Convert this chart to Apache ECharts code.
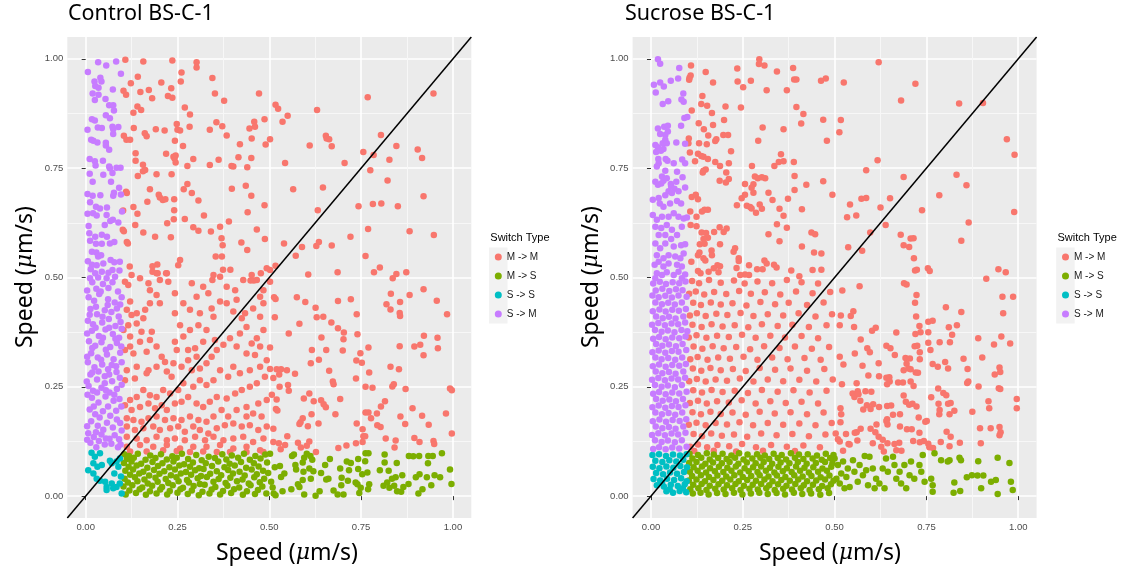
<!DOCTYPE html>
<html>
<head>
<meta charset="utf-8">
<title>Switch type speed scatter</title>
<script src="https://cdn.jsdelivr.net/npm/echarts@6/dist/echarts.min.js"></script>
<style>
    html, body { margin: 0; padding: 0; background: #fff; }
    #main { width: 1121px; height: 578px; }
</style>
</head>
<body>
<div id="main"></div>
<script>
// 分类与颜色 (ggplot 默认色)
const switchTypes = ['M -> M', 'M -> S', 'S -> S', 'S -> M'];
const typeColors = ['#F8766D', '#7CAE00', '#00BFC4', '#C77CFF'];
const panelTitles = ['Control BS-C-1', 'Sucrose BS-C-1'];
const legendTitle = 'Switch Type';
const axisTitle = 'Speed (μm/s)';
const majorTicks = [0, 0.25, 0.5, 0.75, 1];
const minorTicks = [0.125, 0.375, 0.625, 0.875];
const axisMin = -0.05;
const axisMax = 1.05;

// ---- Control BS-C-1 ----
const ctlMM = [
    [0.768,0.912],[0.947,0.921],[0.517,0.895],[0.524,0.886],[0.550,0.870],[0.536,0.856],[0.630,0.883],[0.502,0.816],[0.610,0.802],[0.654,0.824],
    [0.656,0.818],[0.663,0.816],[0.670,0.800],[0.804,0.826],[0.846,0.801],[0.904,0.793],[0.916,0.773],[0.756,0.787],[0.784,0.780],[0.827,0.769],
    [0.543,0.762],[0.705,0.762],[0.775,0.745],[0.822,0.722],[0.565,0.702],[0.646,0.706],[0.920,0.686],[0.632,0.654],[0.743,0.663],[0.782,0.668],
    [0.805,0.669],[0.850,0.663],[0.769,0.611],[0.882,0.606],[0.948,0.597],[0.540,0.578],[0.721,0.593],[0.589,0.570],[0.628,0.572],[0.635,0.581],
    [0.670,0.573],[0.572,0.550],[0.762,0.549],[0.502,0.517],[0.517,0.527],[0.606,0.507],[0.686,0.512],[0.785,0.512],[0.801,0.523],[0.836,0.498],
    [0.846,0.508],[0.873,0.512],[0.502,0.490],[0.513,0.455],[0.517,0.451],[0.575,0.455],[0.598,0.444],[0.626,0.431],[0.629,0.409],[0.647,0.410],
    [0.687,0.446],[0.722,0.450],[0.738,0.416],[0.831,0.463],[0.819,0.439],[0.830,0.427],[0.856,0.444],[0.855,0.419],[0.856,0.412],[0.882,0.460],
    [0.920,0.473],[0.956,0.447],[0.984,0.416],[0.515,0.409],[0.582,0.394],[0.553,0.372],[0.642,0.363],[0.669,0.397],[0.687,0.384],[0.703,0.374],
    [0.702,0.359],[0.700,0.333],[0.740,0.370],[0.502,0.340],[0.616,0.334],[0.655,0.334],[0.635,0.312],[0.613,0.304],[0.770,0.340],[0.748,0.327],
    [0.752,0.305],[0.737,0.310],[0.855,0.343],[0.895,0.342],[0.911,0.346],[0.921,0.367],[0.958,0.362],[0.959,0.338],[0.920,0.322],[0.830,0.296],
    [0.853,0.290],[0.502,0.291],[0.520,0.290],[0.532,0.290],[0.548,0.288],[0.527,0.278],[0.511,0.270],[0.570,0.280],[0.663,0.287],[0.673,0.262],
    [0.675,0.256],[0.736,0.269],[0.772,0.283],[0.528,0.250],[0.551,0.254],[0.553,0.241],[0.762,0.250],[0.781,0.248],[0.835,0.251],[0.839,0.256],
    [0.871,0.245],[0.992,0.246],[0.997,0.242],[0.507,0.232],[0.520,0.221],[0.518,0.199],[0.522,0.196],[0.594,0.223],[0.609,0.235],[0.621,0.217],
    [0.641,0.219],[0.648,0.210],[0.654,0.203],[0.693,0.222],[0.680,0.187],[0.615,0.187],[0.815,0.217],[0.804,0.205],[0.793,0.189],[0.770,0.191],
    [0.762,0.191],[0.777,0.178],[0.794,0.162],[0.803,0.158],[0.857,0.182],[0.890,0.201],[0.916,0.184],[0.981,0.189],[0.934,0.163],[0.870,0.165],
    [0.591,0.178],[0.585,0.169],[0.582,0.165],[0.605,0.160],[0.634,0.166],[0.738,0.166],[0.754,0.153],[0.756,0.137],[0.761,0.137],[0.736,0.121],
    [0.511,0.154],[0.549,0.137],[0.511,0.124],[0.526,0.121],[0.531,0.107],[0.543,0.117],[0.578,0.122],[0.586,0.111],[0.602,0.115],[0.609,0.125],
    [0.627,0.101],[0.688,0.110],[0.710,0.116],[0.754,0.124],[0.817,0.132],[0.844,0.127],[0.841,0.111],[0.895,0.133],[0.909,0.124],[0.947,0.126],
    [0.949,0.119],[0.997,0.143],
    [0.108,0.998],[0.157,0.994],[0.236,0.996],[0.302,0.992],[0.302,0.980],[0.261,0.969],[0.142,0.959],[0.123,0.944],[0.103,0.927],[0.110,0.918],
    [0.149,0.924],[0.172,0.929],[0.181,0.910],[0.206,0.946],[0.224,0.915],[0.236,0.911],[0.233,0.933],[0.259,0.948],[0.345,0.956],[0.352,0.921],
    [0.377,0.904],[0.472,0.921],[0.130,0.877],[0.141,0.891],[0.151,0.883],[0.270,0.889],[0.284,0.873],[0.248,0.851],[0.250,0.838],[0.257,0.836],
    [0.283,0.845],[0.338,0.838],[0.356,0.855],[0.372,0.846],[0.384,0.825],[0.420,0.805],[0.446,0.841],[0.459,0.856],[0.461,0.845],[0.487,0.862],
    [0.452,0.818],[0.490,0.804],[0.131,0.842],[0.104,0.824],[0.111,0.815],[0.121,0.815],[0.161,0.830],[0.166,0.823],[0.191,0.839],[0.215,0.836],
    [0.243,0.813],[0.265,0.801],[0.239,0.776],[0.242,0.772],[0.245,0.763],[0.245,0.779],[0.219,0.783],[0.136,0.784],[0.136,0.767],[0.156,0.758],
    [0.142,0.732],[0.156,0.743],[0.162,0.746],[0.193,0.736],[0.234,0.736],[0.277,0.755],[0.293,0.771],[0.338,0.757],[0.362,0.769],[0.397,0.755],
    [0.402,0.754],[0.416,0.775],[0.451,0.773],[0.440,0.752],[0.398,0.703],[0.436,0.710],[0.451,0.687],[0.441,0.649],[0.487,0.665],[0.466,0.610],
    [0.488,0.588],[0.110,0.696],[0.112,0.693],[0.175,0.702],[0.199,0.689],[0.202,0.683],[0.210,0.677],[0.217,0.679],[0.168,0.673],[0.130,0.661],
    [0.141,0.646],[0.135,0.620],[0.102,0.653],[0.101,0.609],[0.104,0.606],[0.241,0.679],[0.241,0.654],[0.240,0.633],[0.267,0.702],[0.277,0.714],
    [0.289,0.693],[0.307,0.676],[0.322,0.642],[0.293,0.615],[0.307,0.607],[0.270,0.634],[0.222,0.624],[0.189,0.593],[0.157,0.603],[0.112,0.581],
    [0.115,0.578],[0.232,0.592],[0.341,0.605],[0.366,0.616],[0.370,0.590],[0.373,0.574],[0.390,0.628],[0.424,0.580],[0.440,0.563],[0.354,0.548],
    [0.371,0.548],[0.374,0.518],[0.394,0.518],[0.257,0.540],[0.252,0.528],[0.195,0.530],[0.182,0.526],[0.182,0.513],[0.196,0.510],[0.219,0.510],
    [0.120,0.525],[0.345,0.494],[0.449,0.493],[0.458,0.493],[0.477,0.510],[0.493,0.521],
    [0.107,0.490],[0.116,0.483],[0.125,0.506],[0.148,0.498],[0.171,0.487],[0.175,0.471],[0.193,0.510],[0.202,0.494],[0.221,0.510],[0.225,0.490],
    [0.243,0.464],[0.193,0.460],[0.202,0.441],[0.175,0.441],[0.162,0.426],[0.121,0.445],[0.112,0.426],[0.125,0.414],[0.139,0.418],[0.157,0.407],
    [0.139,0.395],[0.116,0.391],[0.103,0.380],[0.121,0.365],[0.152,0.376],[0.180,0.376],[0.175,0.357],[0.148,0.353],[0.121,0.342],[0.107,0.334],
    [0.130,0.326],[0.166,0.330],[0.193,0.342],[0.207,0.319],[0.216,0.307],[0.193,0.296],[0.171,0.288],[0.139,0.296],[0.112,0.288],[0.107,0.265],
    [0.134,0.269],[0.166,0.281],[0.221,0.285],[0.234,0.273],[0.239,0.304],[0.248,0.334],[0.243,0.353],[0.266,0.365],[0.257,0.391],[0.243,0.418],
    [0.266,0.441],[0.289,0.487],[0.320,0.479],[0.334,0.464],[0.302,0.456],[0.284,0.426],[0.311,0.418],[0.343,0.429],[0.366,0.445],[0.348,0.410],
    [0.307,0.391],[0.284,0.380],[0.329,0.380],[0.352,0.357],[0.320,0.353],[0.298,0.338],[0.279,0.334],[0.302,0.319],[0.279,0.311],[0.261,0.296],
    [0.289,0.288],[0.311,0.292],[0.329,0.304],[0.343,0.319],[0.357,0.334],[0.375,0.346],[0.393,0.361],[0.411,0.342],[0.420,0.372],[0.438,0.387],
    [0.425,0.407],[0.402,0.422],[0.384,0.441],[0.411,0.449],[0.434,0.418],[0.456,0.429],[0.475,0.456],[0.484,0.471],[0.466,0.494],[0.429,0.494],
    [0.407,0.471],[0.366,0.502],[0.348,0.506],[0.384,0.479],[0.452,0.506],[0.484,0.441],[0.475,0.410],[0.484,0.380],[0.466,0.361],[0.452,0.349],
    [0.438,0.326],[0.461,0.323],[0.475,0.342],[0.493,0.311],[0.475,0.296],[0.447,0.288],[0.420,0.281],[0.402,0.296],[0.388,0.273],[0.366,0.288],
    [0.348,0.265],[0.329,0.254],[0.311,0.265],[0.293,0.250],[0.266,0.258],[0.252,0.243],[0.230,0.235],[0.211,0.243],[0.193,0.227],[0.175,0.231],
    [0.157,0.243],[0.139,0.227],[0.121,0.220],[0.107,0.208],[0.125,0.197],[0.148,0.204],[0.171,0.212],[0.189,0.201],[0.207,0.208],[0.221,0.197],
    [0.243,0.212],[0.261,0.216],[0.279,0.227],[0.302,0.212],[0.320,0.204],[0.338,0.216],[0.357,0.227],[0.384,0.223],[0.407,0.235],[0.425,0.243],
    [0.447,0.250],[0.466,0.258],[0.488,0.273],[0.493,0.220],[0.470,0.212],[0.438,0.204],[0.411,0.197],[0.388,0.182],[0.370,0.197],[0.348,0.182],
    [0.329,0.170],[0.307,0.174],[0.284,0.182],[0.261,0.174],[0.239,0.178],[0.216,0.174],[0.193,0.182],[0.171,0.178],[0.152,0.170],[0.130,0.174],
    [0.112,0.178],[0.112,0.159],[0.134,0.151],[0.157,0.155],[0.184,0.159],[0.202,0.151],[0.230,0.155],[0.252,0.159],[0.270,0.147],[0.293,0.159],
    [0.311,0.151],[0.334,0.143],[0.357,0.155],[0.379,0.162],[0.402,0.166],[0.425,0.159],[0.447,0.162],[0.470,0.151],[0.493,0.159],[0.479,0.182],
    [0.456,0.189],[0.438,0.182],[0.112,0.136],[0.139,0.132],[0.166,0.128],[0.193,0.136],[0.221,0.128],[0.243,0.132],[0.270,0.128],[0.298,0.136],
    [0.325,0.128],[0.348,0.136],[0.375,0.128],[0.402,0.132],[0.429,0.136],[0.456,0.124],[0.484,0.132],[0.112,0.113],[0.148,0.117],[0.184,0.113],
    [0.221,0.117],[0.257,0.109],[0.293,0.113],[0.329,0.113],[0.366,0.117],[0.402,0.109],[0.438,0.113],[0.475,0.105],[0.121,0.102],[0.166,0.102],
    [0.211,0.105],[0.248,0.103],[0.284,0.101],[0.320,0.102],[0.357,0.101],[0.393,0.101],[0.438,0.101],[0.484,0.101]
];
const ctlMS = [
    [0.502,0.097],[0.515,0.066],[0.529,0.069],[0.541,0.052],[0.532,0.044],[0.505,0.033],[0.509,0.020],[0.512,0.006],[0.517,0.002],[0.536,0.011],
    [0.562,0.092],[0.567,0.095],[0.573,0.061],[0.571,0.071],[0.595,0.088],[0.591,0.077],[0.602,0.097],[0.612,0.092],[0.617,0.083],[0.593,0.056],
    [0.609,0.063],[0.620,0.057],[0.613,0.040],[0.591,0.037],[0.582,0.021],[0.595,0.004],[0.560,0.016],[0.578,0.027],[0.626,0.001],[0.637,0.011],
    [0.641,0.053],[0.655,0.038],[0.661,0.040],[0.665,0.085],[0.652,0.071],[0.675,0.013],[0.686,0.004],[0.693,0.063],[0.697,0.042],[0.696,0.025],
    [0.702,0.004],[0.711,0.079],[0.717,0.059],[0.714,0.035],[0.722,0.076],[0.735,0.031],[0.740,0.027],[0.742,0.085],[0.749,0.019],[0.742,0.062],
    [0.753,0.050],[0.762,0.098],[0.770,0.098],[0.761,0.080],[0.767,0.054],[0.772,0.027],[0.769,0.016],[0.745,0.007],[0.801,0.059],[0.814,0.095],
    [0.814,0.077],[0.811,0.024],[0.821,0.031],[0.825,0.058],[0.827,0.019],[0.844,0.043],[0.847,0.076],[0.834,0.040],[0.840,0.024],[0.848,0.011],
    [0.859,0.010],[0.865,0.021],[0.862,0.048],[0.879,0.028],[0.880,0.092],[0.892,0.091],[0.908,0.092],[0.899,0.043],[0.909,0.050],[0.906,0.006],
    [0.917,0.016],[0.929,0.043],[0.932,0.075],[0.933,0.092],[0.945,0.092],[0.941,0.025],[0.950,0.048],[0.965,0.043],[0.970,0.098],[0.992,0.061],
    [0.996,0.028],
    [0.105,0.096],[0.118,0.092],[0.142,0.097],[0.176,0.093],[0.205,0.096],[0.236,0.091],[0.262,0.097],[0.301,0.094],[0.335,0.090],[0.372,0.096],
    [0.398,0.093],[0.431,0.097],[0.462,0.092],[0.489,0.095],[0.112,0.085],[0.131,0.088],[0.163,0.083],[0.190,0.087],[0.221,0.084],[0.248,0.088],
    [0.279,0.085],[0.316,0.082],[0.352,0.087],[0.383,0.084],[0.415,0.088],[0.447,0.083],[0.476,0.086],[0.104,0.076],[0.125,0.079],[0.151,0.074],
    [0.182,0.078],[0.209,0.075],[0.239,0.079],[0.268,0.073],[0.292,0.077],[0.327,0.075],[0.361,0.079],[0.392,0.074],[0.423,0.078],[0.458,0.075],
    [0.494,0.077],[0.117,0.067],[0.139,0.070],[0.168,0.065],[0.197,0.069],[0.228,0.066],[0.255,0.070],[0.284,0.067],[0.309,0.064],[0.344,0.069],
    [0.378,0.066],[0.406,0.070],[0.437,0.065],[0.471,0.068],[0.108,0.058],[0.129,0.061],[0.157,0.056],[0.186,0.060],[0.214,0.057],[0.243,0.061],
    [0.273,0.055],[0.298,0.059],[0.321,0.062],[0.357,0.057],[0.388,0.060],[0.419,0.056],[0.452,0.061],[0.483,0.058],[0.121,0.049],[0.146,0.052],
    [0.173,0.047],[0.201,0.051],[0.232,0.048],[0.259,0.052],[0.287,0.049],[0.314,0.046],[0.339,0.051],[0.369,0.048],[0.401,0.052],[0.433,0.047],
    [0.466,0.050],[0.497,0.053],[0.106,0.040],[0.134,0.043],[0.160,0.038],[0.190,0.042],[0.218,0.039],[0.247,0.043],[0.276,0.037],[0.305,0.041],
    [0.330,0.044],[0.362,0.039],[0.394,0.042],[0.427,0.038],[0.459,0.043],[0.486,0.040],[0.115,0.031],[0.141,0.034],[0.169,0.029],[0.196,0.033],
    [0.225,0.030],[0.253,0.034],[0.281,0.031],[0.311,0.028],[0.348,0.033],[0.381,0.030],[0.412,0.034],[0.444,0.029],[0.474,0.032],[0.103,0.022],
    [0.127,0.025],[0.154,0.020],[0.181,0.024],[0.208,0.021],[0.237,0.025],[0.265,0.019],[0.294,0.023],[0.324,0.026],[0.353,0.021],[0.386,0.024],
    [0.418,0.020],[0.449,0.025],[0.481,0.022],[0.119,0.013],[0.147,0.016],[0.175,0.011],[0.203,0.015],[0.229,0.012],[0.258,0.016],[0.289,0.013],
    [0.318,0.010],[0.343,0.015],[0.374,0.012],[0.404,0.016],[0.439,0.011],[0.469,0.014],[0.109,0.004],[0.137,0.007],[0.164,0.003],[0.193,0.006],
    [0.222,0.004],[0.250,0.008],[0.278,0.005],[0.308,0.002],[0.337,0.006],[0.366,0.004],[0.396,0.007],[0.428,0.003],[0.461,0.005],[0.492,0.006]
];
const ctlSS = [
    [0.016,0.099],[0.025,0.090],[0.039,0.098],[0.007,0.059],[0.021,0.052],[0.032,0.067],[0.044,0.071],[0.066,0.081],[0.071,0.075],[0.084,0.079],
    [0.093,0.086],[0.089,0.067],[0.030,0.040],[0.039,0.035],[0.057,0.021],[0.057,0.014],[0.071,0.029],[0.075,0.018],[0.084,0.021],[0.098,0.006],
    [0.093,0.029],[0.053,0.033],[0.021,0.075],[0.078,0.052],[0.096,0.045]
];
const ctlSM = [
    [0.034,0.992],[0.056,0.985],[0.083,0.994],[0.006,0.970],[0.096,0.966],[0.024,0.948],[0.040,0.957],[0.043,0.948],[0.026,0.938],[0.035,0.934],
    [0.074,0.930],[0.019,0.921],[0.025,0.906],[0.035,0.918],[0.054,0.908],[0.064,0.894],[0.075,0.894],[0.077,0.882],[0.017,0.862],[0.025,0.859],
    [0.055,0.871],[0.066,0.864],[0.033,0.843],[0.044,0.842],[0.005,0.838],[0.073,0.845],[0.075,0.839],[0.089,0.844],[0.075,0.828],[0.015,0.815],
    [0.021,0.813],[0.032,0.809],[0.055,0.808],[0.055,0.802],[0.064,0.792],[0.011,0.771],[0.025,0.766],[0.027,0.756],[0.047,0.767],[0.064,0.754],
    [0.066,0.750],[0.084,0.751],[0.095,0.751],[0.073,0.739],[0.011,0.737],[0.048,0.735],[0.019,0.719],[0.069,0.719],[0.091,0.705],[0.005,0.691],
    [0.019,0.687],[0.040,0.688],[0.077,0.694],[0.075,0.687],[0.096,0.690],[0.012,0.672],[0.028,0.662],[0.039,0.658],[0.058,0.660],[0.005,0.646],
    [0.020,0.647],[0.030,0.642],[0.057,0.643],[0.067,0.629],[0.074,0.632],[0.089,0.626],[0.008,0.618],[0.052,0.620],[0.099,0.651],[0.010,0.601],
    [0.026,0.593],[0.044,0.598],[0.058,0.593],[0.012,0.584],[0.028,0.577],[0.044,0.577],[0.066,0.578],[0.078,0.581],[0.017,0.559],[0.029,0.557],
    [0.034,0.548],[0.042,0.551],[0.006,0.537],[0.017,0.529],[0.030,0.528],[0.048,0.532],[0.068,0.540],[0.078,0.535],[0.093,0.536],[0.014,0.519],
    [0.026,0.510],[0.044,0.513],[0.062,0.511],[0.073,0.517],[0.092,0.516],[0.012,0.498],[0.034,0.500],[0.057,0.498],[0.080,0.502],
    [0.018,0.489],[0.029,0.474],[0.047,0.485],[0.073,0.489],[0.088,0.468],[0.008,0.455],[0.023,0.447],[0.037,0.462],[0.061,0.450],[0.079,0.443],
    [0.094,0.438],[0.013,0.428],[0.031,0.416],[0.052,0.425],[0.070,0.421],[0.090,0.411],[0.006,0.401],[0.020,0.393],[0.045,0.397],[0.063,0.405],
    [0.081,0.389],[0.095,0.398],[0.017,0.378],[0.036,0.366],[0.054,0.381],[0.074,0.371],[0.091,0.362],[0.009,0.354],[0.026,0.344],[0.043,0.352],
    [0.067,0.341],[0.085,0.350],[0.015,0.327],[0.033,0.317],[0.058,0.324],[0.076,0.313],[0.094,0.328],[0.006,0.306],[0.024,0.295],[0.045,0.301],
    [0.061,0.290],[0.083,0.297],[0.013,0.278],[0.031,0.267],[0.052,0.274],[0.072,0.263],[0.093,0.271],[0.008,0.252],[0.020,0.241],[0.043,0.248],
    [0.065,0.237],[0.085,0.245],[0.017,0.225],[0.035,0.214],[0.054,0.228],[0.076,0.218],[0.092,0.222],[0.011,0.198],[0.026,0.187],[0.047,0.194],
    [0.067,0.184],[0.083,0.195],[0.015,0.171],[0.033,0.161],[0.058,0.168],[0.074,0.157],[0.094,0.167],[0.007,0.144],[0.022,0.135],[0.043,0.141],
    [0.065,0.131],[0.079,0.139],[0.091,0.130],[0.013,0.122],[0.029,0.112],[0.052,0.118],[0.070,0.120],[0.088,0.112],
    [0.004,0.470],[0.041,0.468],[0.062,0.476],[0.098,0.455],[0.028,0.433],[0.060,0.437],[0.085,0.429],[0.011,0.415],[0.046,0.410],[0.098,0.383],
    [0.027,0.385],[0.064,0.385],[0.004,0.372],[0.047,0.362],[0.081,0.360],[0.018,0.339],[0.055,0.335],[0.097,0.342],[0.004,0.319],[0.042,0.312],
    [0.071,0.300],[0.098,0.306],[0.018,0.283],[0.035,0.285],[0.064,0.278],[0.084,0.284],[0.003,0.262],[0.052,0.258],[0.098,0.255],[0.031,0.237],
    [0.055,0.242],[0.078,0.232],[0.005,0.232],[0.022,0.205],[0.061,0.205],[0.097,0.205],[0.038,0.180],[0.085,0.175],[0.004,0.160],[0.048,0.152],
    [0.098,0.150],[0.028,0.146],[0.055,0.132],[0.036,0.126],[0.095,0.118],[0.004,0.129]
];

// ---- Sucrose BS-C-1 ----
const sucMM = [
    [0.109,0.985],[0.149,0.970],[0.105,0.957],[0.108,0.962],[0.104,0.952],[0.169,0.946],[0.235,0.978],[0.236,0.948],[0.251,0.935],[0.272,0.950],
    [0.295,0.999],[0.294,0.988],[0.309,0.985],[0.343,0.971],[0.387,0.979],[0.390,0.953],[0.396,0.953],[0.315,0.928],[0.370,0.928],[0.463,0.950],
    [0.476,0.955],[0.140,0.915],[0.137,0.897],[0.153,0.893],[0.111,0.882],[0.203,0.891],[0.245,0.889],[0.166,0.876],[0.130,0.853],[0.144,0.839],
    [0.169,0.849],[0.199,0.860],[0.197,0.826],[0.210,0.826],[0.156,0.825],[0.175,0.812],[0.178,0.816],[0.131,0.807],[0.152,0.805],[0.103,0.818],
    [0.102,0.807],[0.106,0.786],[0.128,0.783],[0.137,0.778],[0.143,0.776],[0.155,0.771],[0.120,0.766],[0.175,0.764],[0.188,0.755],[0.218,0.789],
    [0.212,0.761],[0.143,0.744],[0.149,0.747],[0.141,0.740],[0.205,0.740],[0.187,0.721],[0.212,0.725],[0.204,0.717],[0.292,0.813],[0.304,0.843],
    [0.275,0.755],[0.256,0.714],[0.283,0.731],[0.291,0.727],[0.302,0.729],[0.311,0.727],[0.279,0.713],[0.274,0.705],[0.279,0.694],[0.247,0.681],
    [0.256,0.689],[0.261,0.664],[0.270,0.661],[0.274,0.658],[0.234,0.665],[0.296,0.667],[0.286,0.648],[0.320,0.694],[0.331,0.677],[0.302,0.657],
    [0.348,0.764],[0.354,0.782],[0.361,0.766],[0.389,0.764],[0.361,0.839],[0.336,0.755],[0.350,0.657],[0.361,0.641],[0.373,0.680],[0.391,0.700],
    [0.391,0.732],[0.411,0.656],[0.423,0.712],[0.343,0.622],[0.370,0.614],[0.320,0.599],[0.350,0.583],[0.411,0.571],[0.437,0.603],[0.447,0.599],
    [0.444,0.557],[0.464,0.555],[0.469,0.720],[0.494,0.689],[0.409,0.852],[0.415,0.874],[0.396,0.890],[0.469,0.861],[0.479,0.813],[0.111,0.684],
    [0.122,0.689],[0.128,0.679],[0.107,0.651],[0.124,0.639],[0.139,0.651],[0.146,0.655],[0.155,0.655],[0.108,0.620],[0.124,0.617],[0.138,0.603],
    [0.150,0.602],[0.155,0.591],[0.143,0.588],[0.172,0.604],[0.187,0.615],[0.206,0.612],[0.198,0.604],[0.133,0.576],[0.146,0.577],[0.165,0.562],
    [0.166,0.551],[0.188,0.576],[0.229,0.567],[0.225,0.559],[0.128,0.551],[0.132,0.557],[0.143,0.544],[0.148,0.539],[0.110,0.536],[0.181,0.528],
    [0.188,0.526],[0.239,0.544],[0.239,0.538],[0.267,0.528],[0.309,0.539],[0.315,0.532],[0.233,0.522],[0.171,0.521],[0.157,0.513],[0.184,0.512],
    [0.128,0.515],[0.135,0.510],[0.335,0.529],[0.342,0.523],[0.289,0.519],[0.304,0.519],[0.243,0.506],[0.256,0.507],[0.267,0.506],[0.382,0.516],
    [0.440,0.517],[0.464,0.518],[0.404,0.503],
    [0.620,0.992],[0.525,0.946],[0.720,0.943],[0.681,0.905],[0.839,0.898],[0.904,0.899],[0.517,0.860],[0.513,0.832],[0.969,0.816],[0.990,0.781],
    [0.617,0.768],[0.586,0.745],[0.688,0.730],[0.832,0.735],[0.859,0.711],[0.785,0.688],[0.573,0.680],[0.586,0.682],[0.651,0.681],[0.542,0.667],
    [0.625,0.660],[0.534,0.638],[0.559,0.642],[0.738,0.654],[0.989,0.650],[0.639,0.620],[0.865,0.626],[0.597,0.603],[0.680,0.598],[0.707,0.589],
    [0.715,0.590],[0.688,0.574],[0.703,0.570],[0.537,0.569],[0.575,0.561],[0.845,0.584],[0.716,0.544],[0.719,0.516],[0.724,0.518],[0.754,0.521],
    [0.759,0.515],[0.946,0.519],[0.966,0.512],[0.913,0.497],[0.521,0.470],[0.568,0.480],[0.689,0.487],[0.696,0.484],[0.723,0.460],[0.719,0.442],
    [0.517,0.413],[0.544,0.412],[0.551,0.423],[0.514,0.391],[0.553,0.387],[0.722,0.411],[0.803,0.432],[0.845,0.421],[0.959,0.418],[0.957,0.456],
    [0.986,0.456],[0.755,0.399],[0.767,0.401],[0.731,0.389],[0.734,0.375],[0.720,0.371],[0.718,0.343],[0.725,0.344],[0.668,0.374],[0.602,0.378],
    [0.612,0.385],[0.571,0.358],[0.811,0.386],[0.833,0.391],[0.820,0.369],[0.814,0.352],[0.755,0.375],[0.755,0.351],[0.761,0.334],[0.786,0.352],
    [0.891,0.361],[0.934,0.347],[0.954,0.365],[0.978,0.349],[0.641,0.344],[0.652,0.338],[0.664,0.323],[0.589,0.338],[0.596,0.329],[0.555,0.326],
    [0.514,0.319],[0.524,0.301],[0.693,0.316],[0.705,0.315],[0.696,0.303],[0.688,0.288],[0.701,0.292],[0.707,0.290],[0.721,0.283],[0.727,0.282],
    [0.732,0.329],[0.732,0.313],[0.767,0.302],[0.781,0.296],[0.801,0.307],[0.809,0.292],[0.851,0.314],[0.862,0.291],[0.864,0.262],[0.861,0.259],
    [0.902,0.317],[0.949,0.294],[0.951,0.284],[0.936,0.278],[0.947,0.247],[0.951,0.245],[0.892,0.251],[0.576,0.298],[0.620,0.304],[0.592,0.276],
    [0.621,0.274],[0.641,0.271],[0.649,0.272],[0.650,0.262],[0.643,0.256],[0.673,0.260],[0.686,0.260],[0.707,0.262],[0.715,0.252],[0.520,0.256],
    [0.560,0.258],[0.563,0.240],[0.549,0.235],[0.554,0.227],[0.565,0.233],[0.584,0.240],[0.600,0.239],[0.782,0.246],[0.796,0.236],[0.804,0.231],
    [0.763,0.226],[0.570,0.218],[0.588,0.208],[0.605,0.210],[0.598,0.199],[0.578,0.198],[0.621,0.204],[0.643,0.206],[0.654,0.207],[0.659,0.186],
    [0.643,0.176],[0.641,0.172],[0.644,0.164],[0.688,0.230],[0.694,0.216],[0.703,0.209],[0.712,0.211],[0.723,0.205],[0.678,0.187],[0.729,0.180],
    [0.783,0.211],[0.809,0.211],[0.816,0.213],[0.786,0.197],[0.785,0.187],[0.813,0.187],[0.826,0.195],[0.875,0.193],[0.919,0.217],[0.921,0.201],
    [0.996,0.222],[0.996,0.201],[0.516,0.201],[0.518,0.187],[0.516,0.169],[0.503,0.143],[0.509,0.130],[0.514,0.125],[0.531,0.142],[0.538,0.119],
    [0.560,0.146],[0.571,0.154],[0.598,0.154],[0.614,0.164],[0.611,0.146],[0.620,0.136],[0.631,0.129],[0.644,0.121],[0.604,0.121],[0.627,0.113],
    [0.634,0.102],[0.678,0.159],[0.697,0.153],[0.710,0.153],[0.731,0.145],[0.747,0.170],[0.751,0.172],[0.714,0.126],[0.732,0.123],[0.743,0.126],
    [0.755,0.120],[0.768,0.110],[0.758,0.112],[0.676,0.122],[0.663,0.119],[0.668,0.105],[0.682,0.104],[0.805,0.147],[0.816,0.136],[0.789,0.124],
    [0.813,0.114],[0.841,0.122],[0.898,0.121],[0.925,0.155],[0.949,0.158],[0.952,0.146],[0.949,0.139],[0.896,0.155],[0.555,0.145],[0.562,0.127],
    [0.541,0.118],[0.523,0.104],
    [0.112,0.492],[0.131,0.487],[0.158,0.494],[0.190,0.488],[0.226,0.493],[0.255,0.486],[0.290,0.491],[0.330,0.487],[0.370,0.494],[0.410,0.489],
    [0.455,0.486],[0.104,0.463],[0.122,0.468],[0.145,0.461],[0.172,0.467],[0.205,0.462],[0.240,0.469],[0.272,0.463],[0.310,0.466],[0.352,0.461],
    [0.395,0.468],[0.440,0.464],[0.488,0.467],[0.115,0.442],[0.136,0.437],[0.163,0.443],[0.190,0.438],[0.222,0.441],[0.260,0.436],[0.298,0.444],
    [0.338,0.439],[0.375,0.442],[0.425,0.437],[0.470,0.443],[0.106,0.413],[0.125,0.418],[0.149,0.412],[0.178,0.417],[0.208,0.414],[0.244,0.419],
    [0.279,0.412],[0.318,0.416],[0.360,0.413],[0.402,0.418],[0.448,0.411],[0.493,0.416],[0.113,0.392],[0.138,0.387],[0.165,0.393],[0.195,0.388],
    [0.228,0.391],[0.265,0.386],[0.302,0.393],[0.345,0.389],[0.385,0.392],[0.430,0.387],[0.478,0.391],[0.103,0.363],[0.124,0.368],[0.151,0.362],
    [0.180,0.367],[0.212,0.364],[0.248,0.369],[0.285,0.362],[0.325,0.367],[0.365,0.363],[0.410,0.366],[0.455,0.361],[0.116,0.342],[0.140,0.337],
    [0.168,0.343],[0.198,0.338],[0.232,0.341],[0.270,0.336],[0.308,0.343],[0.350,0.339],[0.392,0.342],[0.438,0.337],[0.485,0.341],[0.107,0.313],
    [0.127,0.318],[0.154,0.312],[0.183,0.317],[0.215,0.314],[0.252,0.319],[0.290,0.312],[0.330,0.317],[0.372,0.313],[0.418,0.316],[0.462,0.312],
    [0.114,0.292],[0.137,0.287],[0.162,0.293],[0.190,0.288],[0.223,0.291],[0.258,0.286],[0.296,0.293],[0.338,0.289],[0.380,0.292],[0.425,0.287],
    [0.472,0.291],[0.104,0.263],[0.125,0.268],[0.149,0.262],[0.176,0.267],[0.207,0.264],[0.242,0.269],[0.279,0.262],[0.318,0.267],[0.360,0.263],
    [0.404,0.266],[0.450,0.262],[0.495,0.267],[0.115,0.242],[0.139,0.237],[0.165,0.243],[0.195,0.238],[0.228,0.241],[0.264,0.236],[0.302,0.243],
    [0.345,0.239],[0.388,0.242],[0.432,0.237],[0.478,0.241],[0.106,0.213],[0.128,0.218],[0.152,0.212],[0.180,0.217],[0.212,0.214],[0.247,0.219],
    [0.285,0.212],[0.325,0.217],[0.367,0.213],[0.410,0.216],[0.455,0.212],[0.113,0.192],[0.136,0.187],[0.162,0.193],[0.190,0.188],[0.222,0.191],
    [0.258,0.186],[0.296,0.193],[0.337,0.189],[0.380,0.192],[0.425,0.187],[0.470,0.191],[0.103,0.163],[0.124,0.168],[0.149,0.162],[0.176,0.167],
    [0.207,0.164],[0.241,0.169],[0.278,0.162],[0.318,0.167],[0.360,0.163],[0.404,0.166],[0.448,0.162],[0.492,0.167],[0.116,0.142],[0.139,0.137],
    [0.164,0.143],[0.193,0.138],[0.226,0.141],[0.262,0.136],[0.300,0.143],[0.342,0.139],[0.385,0.142],[0.430,0.137],[0.475,0.141],[0.107,0.113],
    [0.128,0.118],[0.153,0.112],[0.181,0.117],[0.213,0.114],[0.248,0.119],[0.286,0.112],[0.327,0.117],[0.370,0.113],[0.415,0.116],[0.460,0.112],
    [0.118,0.103],[0.171,0.104],[0.232,0.102],[0.305,0.104],[0.392,0.103]
];
const sucMS = [
    [0.500,0.086],[0.509,0.071],[0.523,0.079],[0.536,0.063],[0.518,0.052],[0.505,0.040],[0.514,0.029],[0.527,0.018],[0.541,0.021],[0.532,0.044],
    [0.550,0.082],[0.554,0.056],[0.568,0.071],[0.563,0.033],[0.577,0.048],[0.586,0.059],[0.582,0.092],[0.595,0.090],[0.604,0.063],[0.613,0.040],
    [0.622,0.029],[0.609,0.018],[0.591,0.025],[0.631,0.063],[0.640,0.086],[0.645,0.056],[0.636,0.018],[0.659,0.090],[0.663,0.071],[0.677,0.056],
    [0.668,0.040],[0.681,0.029],[0.695,0.018],[0.704,0.048],[0.690,0.071],[0.708,0.079],[0.717,0.040],[0.731,0.071],[0.736,0.056],[0.740,0.094],
    [0.745,0.033],[0.763,0.040],[0.767,0.025],[0.772,0.098],[0.767,0.010],[0.790,0.082],[0.808,0.079],[0.813,0.082],[0.826,0.031],[0.824,0.008],
    [0.840,0.088],[0.844,0.082],[0.842,0.012],[0.860,0.043],[0.874,0.048],[0.889,0.047],[0.905,0.047],[0.899,0.018],[0.891,0.080],[0.926,0.033],
    [0.939,0.037],[0.944,0.088],[0.944,0.005],[0.976,0.076],[0.980,0.033],[0.985,0.014],
    [0.105,0.097],[0.128,0.094],[0.152,0.098],[0.171,0.095],[0.195,0.097],[0.219,0.093],[0.240,0.098],[0.263,0.095],[0.289,0.096],[0.310,0.093],
    [0.334,0.097],[0.356,0.094],[0.381,0.098],[0.403,0.095],[0.427,0.096],[0.452,0.093],[0.476,0.097],[0.497,0.094],
    [0.113,0.086],[0.137,0.088],[0.160,0.084],[0.183,0.087],[0.206,0.085],[0.229,0.088],[0.252,0.084],[0.276,0.086],[0.298,0.088],[0.322,0.085],
    [0.345,0.087],[0.368,0.084],[0.392,0.088],[0.415,0.085],[0.440,0.086],[0.465,0.083],[0.488,0.087],
    [0.104,0.076],[0.124,0.078],[0.148,0.074],[0.169,0.077],[0.193,0.075],[0.214,0.078],[0.238,0.074],[0.261,0.077],[0.285,0.075],[0.307,0.078],
    [0.330,0.074],[0.353,0.077],[0.377,0.075],[0.400,0.078],[0.424,0.074],[0.449,0.076],[0.474,0.078],[0.494,0.075],
    [0.116,0.066],[0.139,0.068],[0.161,0.064],[0.185,0.067],[0.208,0.065],[0.231,0.068],[0.255,0.064],[0.278,0.066],[0.300,0.068],[0.324,0.065],
    [0.347,0.067],[0.370,0.064],[0.395,0.068],[0.418,0.065],[0.442,0.066],[0.467,0.063],[0.491,0.067],
    [0.106,0.056],[0.127,0.058],[0.150,0.054],[0.174,0.057],[0.197,0.055],[0.219,0.058],[0.243,0.054],[0.266,0.057],[0.290,0.055],[0.313,0.058],
    [0.336,0.054],[0.359,0.057],[0.383,0.055],[0.406,0.058],[0.430,0.054],[0.455,0.056],[0.479,0.058],
    [0.112,0.046],[0.136,0.048],[0.158,0.044],[0.181,0.047],[0.205,0.045],[0.227,0.048],[0.250,0.044],[0.273,0.046],[0.296,0.048],[0.320,0.045],
    [0.343,0.047],[0.366,0.044],[0.390,0.048],[0.413,0.045],[0.437,0.046],[0.462,0.043],[0.486,0.047],
    [0.103,0.036],[0.124,0.038],[0.147,0.034],[0.170,0.037],[0.194,0.035],[0.216,0.038],[0.239,0.034],[0.262,0.037],[0.286,0.035],[0.309,0.038],
    [0.331,0.034],[0.355,0.037],[0.378,0.035],[0.401,0.038],[0.425,0.034],[0.450,0.036],[0.474,0.038],[0.497,0.035],
    [0.115,0.026],[0.138,0.028],[0.160,0.024],[0.184,0.027],[0.207,0.025],[0.230,0.028],[0.253,0.024],[0.277,0.026],[0.300,0.028],[0.322,0.025],
    [0.346,0.027],[0.369,0.024],[0.393,0.028],[0.416,0.025],[0.441,0.026],[0.466,0.023],[0.490,0.027],
    [0.107,0.016],[0.129,0.018],[0.151,0.014],[0.175,0.017],[0.198,0.015],[0.221,0.018],[0.244,0.014],[0.268,0.017],[0.291,0.015],[0.314,0.018],
    [0.337,0.014],[0.360,0.017],[0.384,0.015],[0.408,0.018],[0.432,0.014],[0.457,0.016],[0.481,0.018],
    [0.114,0.006],[0.135,0.008],[0.157,0.004],[0.180,0.007],[0.203,0.005],[0.226,0.008],[0.249,0.004],[0.272,0.006],[0.295,0.008],[0.318,0.005],
    [0.342,0.007],[0.365,0.004],[0.389,0.008],[0.412,0.005],[0.436,0.006],[0.461,0.003],[0.485,0.007]
];
const sucSS = [
    [0.004,0.094],[0.022,0.096],[0.041,0.092],[0.060,0.095],[0.079,0.093],[0.097,0.096],[0.012,0.081],[0.031,0.078],[0.050,0.082],[0.069,0.079],
    [0.088,0.083],[0.005,0.067],[0.023,0.064],[0.042,0.068],[0.061,0.065],[0.080,0.069],[0.098,0.066],[0.014,0.053],[0.033,0.050],[0.052,0.054],
    [0.071,0.051],[0.090,0.055],[0.007,0.039],[0.025,0.036],[0.044,0.040],[0.063,0.037],[0.082,0.041],[0.097,0.034],[0.016,0.025],[0.035,0.022],
    [0.054,0.026],[0.073,0.023],[0.092,0.027],[0.042,0.011],[0.060,0.008],[0.078,0.012],[0.096,0.009],[0.051,0.016],[0.087,0.018],[0.030,0.031]
];
const sucSM = [
    [0.019,0.999],[0.025,0.989],[0.077,0.979],[0.008,0.941],[0.013,0.923],[0.025,0.946],[0.035,0.937],[0.054,0.950],[0.074,0.955],[0.088,0.921],
    [0.083,0.907],[0.089,0.902],[0.032,0.897],[0.047,0.903],[0.091,0.865],[0.099,0.867],[0.019,0.841],[0.036,0.845],[0.046,0.847],[0.046,0.834],
    [0.039,0.826],[0.082,0.847],[0.025,0.828],[0.012,0.803],[0.019,0.798],[0.032,0.807],[0.039,0.815],[0.043,0.807],[0.069,0.809],[0.093,0.806],
    [0.014,0.787],[0.027,0.790],[0.034,0.794],[0.020,0.771],[0.021,0.761],[0.040,0.771],[0.045,0.767],[0.062,0.761],[0.085,0.770],[0.093,0.761],
    [0.016,0.754],[0.071,0.742],[0.039,0.744],[0.030,0.731],[0.012,0.719],[0.019,0.712],[0.028,0.715],[0.034,0.721],[0.043,0.727],[0.086,0.729],
    [0.054,0.714],[0.069,0.719],[0.055,0.708],[0.064,0.703],[0.093,0.706],[0.005,0.678],[0.021,0.682],[0.039,0.688],[0.048,0.697],[0.057,0.693],
    [0.075,0.697],[0.024,0.669],[0.034,0.662],[0.052,0.669],[0.071,0.675],[0.082,0.669],[0.005,0.643],[0.016,0.632],[0.030,0.639],[0.048,0.639],
    [0.062,0.647],[0.075,0.639],[0.089,0.635],[0.098,0.637],[0.012,0.616],[0.028,0.613],[0.043,0.620],[0.057,0.609],[0.084,0.616],[0.071,0.597],
    [0.055,0.588],[0.039,0.597],[0.021,0.597],[0.012,0.578],[0.025,0.567],[0.039,0.578],[0.062,0.571],[0.082,0.574],[0.093,0.576],[0.016,0.551],
    [0.034,0.544],[0.048,0.551],[0.066,0.548],[0.080,0.544],[0.089,0.555],[0.010,0.529],[0.021,0.536],[0.034,0.525],[0.048,0.532],[0.071,0.529],
    [0.084,0.525],[0.016,0.510],[0.030,0.506],[0.043,0.512],[0.062,0.506],[0.075,0.513],[0.093,0.507],[0.012,0.498],[0.084,0.498],
    [0.006,0.486],[0.024,0.490],[0.041,0.485],[0.059,0.489],[0.077,0.487],[0.094,0.491],[0.013,0.470],[0.031,0.474],[0.050,0.469],[0.068,0.473],
    [0.086,0.471],[0.004,0.459],[0.021,0.455],[0.039,0.458],[0.057,0.454],[0.075,0.459],[0.097,0.456],[0.012,0.443],[0.030,0.439],[0.047,0.442],
    [0.065,0.438],[0.084,0.443],[0.005,0.423],[0.023,0.427],[0.040,0.422],[0.058,0.426],[0.076,0.424],[0.095,0.428],[0.014,0.411],[0.032,0.407],
    [0.049,0.410],[0.067,0.406],[0.088,0.411],[0.003,0.392],[0.020,0.396],[0.038,0.391],[0.056,0.395],[0.074,0.393],[0.093,0.397],[0.011,0.380],
    [0.029,0.376],[0.046,0.379],[0.064,0.375],[0.083,0.380],[0.099,0.377],[0.006,0.360],[0.022,0.364],[0.040,0.359],[0.058,0.363],[0.077,0.361],
    [0.094,0.365],[0.014,0.348],[0.031,0.344],[0.049,0.347],[0.068,0.343],[0.086,0.348],[0.004,0.329],[0.021,0.333],[0.039,0.328],[0.057,0.332],
    [0.075,0.330],[0.096,0.334],[0.012,0.317],[0.029,0.313],[0.047,0.316],[0.066,0.312],[0.085,0.317],[0.005,0.297],[0.022,0.301],[0.040,0.296],
    [0.058,0.300],[0.077,0.298],[0.095,0.302],[0.013,0.285],[0.031,0.281],[0.049,0.284],[0.067,0.280],[0.088,0.285],[0.003,0.266],[0.020,0.270],
    [0.038,0.265],[0.056,0.269],[0.074,0.267],[0.093,0.271],[0.011,0.254],[0.029,0.250],[0.046,0.253],[0.065,0.249],[0.084,0.254],[0.006,0.234],
    [0.022,0.238],[0.040,0.233],[0.058,0.237],[0.077,0.235],[0.097,0.239],[0.014,0.222],[0.032,0.218],[0.050,0.221],[0.068,0.217],[0.087,0.222],
    [0.004,0.203],[0.021,0.207],[0.039,0.202],[0.057,0.206],[0.075,0.204],[0.094,0.208],[0.012,0.191],[0.030,0.187],[0.048,0.190],[0.066,0.186],
    [0.085,0.191],[0.005,0.171],[0.023,0.175],[0.041,0.170],[0.059,0.174],[0.078,0.172],[0.096,0.176],[0.013,0.159],[0.031,0.155],[0.049,0.158],
    [0.067,0.154],[0.088,0.159],[0.003,0.140],[0.020,0.144],[0.038,0.139],[0.056,0.143],[0.074,0.141],[0.094,0.145],[0.011,0.128],[0.029,0.124],
    [0.046,0.127],[0.065,0.123],[0.084,0.128],[0.006,0.108],[0.022,0.112],[0.040,0.107],[0.058,0.111],[0.077,0.109],[0.097,0.113]
];

// y = x 参考线, 端点取坐标轴范围
const refLine = [[axisMin, axisMin], [axisMax, axisMax]];

const chart = echarts.init(document.getElementById('main'));

const panels = [
    { title: panelTitles[0], sets: [ctlMM, ctlMS, ctlSS, ctlSM], left: 67.3, titleLeft: 68, legendLeft: 494.8, xTitle: 287, yTitle: 25 },
    { title: panelTitles[1], sets: [sucMM, sucMS, sucSS, sucSM], left: 632.6, titleLeft: 625, legendLeft: 1062, xTitle: 830, yTitle: 591 }
];

const gridTop = 37;
const gridW = 404;
const gridH = 481;
const tickFont = { color: '#4D4D4D', fontSize: 9.5, fontFamily: 'Liberation Sans' };

function mainAxis(gi, pos) {
    return {
        type: 'value', gridIndex: gi, position: pos, min: axisMin, max: axisMax,
        axisLine: { show: false },
        axisTick: { show: true, customValues: majorTicks, length: 4, lineStyle: { color: '#333', width: 1 } },
        axisLabel: Object.assign({ customValues: majorTicks, margin: 4, formatter: v => v.toFixed(2) }, tickFont),
        splitLine: { show: true, lineStyle: { color: '#FFFFFF', width: 1.6 } }
    };
}
function minorAxis(gi, pos) {
    return {
        type: 'value', gridIndex: gi, position: pos, min: axisMin, max: axisMax,
        axisLine: { show: false },
        axisTick: { show: false, customValues: minorTicks },
        axisLabel: { show: false },
        splitLine: { show: true, lineStyle: { color: '#F7F7F7', width: 1 } }
    };
}

const grid = [], xAxis = [], yAxis = [], series = [], title = [], legend = [], graphic = [];
const axisTitleRich = {
    a: { fontFamily: 'Noto Sans', fontSize: 23, color: '#000' },
    b: { fontFamily: 'DejaVu Serif', fontStyle: 'italic', fontSize: 22, color: '#000' }
};
const axisTitleText = '{a|Speed (}{b|μ}{a|m/s)}';

panels.forEach((p, i) => {
    grid.push({ left: p.left, top: gridTop, width: gridW, height: gridH, show: true, backgroundColor: '#EBEBEB', borderWidth: 0 });
    xAxis.push(mainAxis(i, 'bottom'), minorAxis(i, 'top'));
    yAxis.push(mainAxis(i, 'left'), minorAxis(i, 'right'));
    const xi = i * 2, yi = i * 2;

    p.sets.forEach((pts, k) => {
        series.push({
            name: switchTypes[k], type: 'scatter', xAxisIndex: xi, yAxisIndex: yi,
            data: pts, symbolSize: 6.5, itemStyle: { color: typeColors[k], opacity: 1 },
            silent: true, animation: false, z: 2
        });
    });
    series.push({
        type: 'line', xAxisIndex: xi, yAxisIndex: yi, data: refLine,
        symbol: 'none', silent: true, animation: false, z: 5,
        lineStyle: { color: '#000', width: 1.5 }
    });

    title.push({
        text: p.title, left: p.titleLeft, top: 3, padding: 0,
        textStyle: { fontFamily: 'Noto Sans', fontSize: 21.5, fontWeight: 'normal', color: '#000' }
    });
    title.push({
        text: legendTitle, left: p.legendLeft - 4.5, top: 232, padding: 0,
        textStyle: { fontFamily: 'Liberation Sans', fontSize: 11, fontWeight: 'normal', color: '#000' }
    });
    legend.push({
        orient: 'vertical', left: p.legendLeft, top: 251, padding: 0,
        icon: 'circle', itemWidth: 7, itemHeight: 7, itemGap: 7, itemTextGap: 13,
        selectedMode: false, data: switchTypes,
        textStyle: { fontFamily: 'Liberation Sans', fontSize: 10, lineHeight: 12, color: '#1A1A1A' }
    });

    // 图例键的灰色底
    graphic.push({
        type: 'rect', left: p.legendLeft - 5.8, top: 247.5, z: -1, silent: true,
        shape: { width: 18.5, height: 76 }, style: { fill: '#F2F2F2' }
    });
    graphic.push({
        type: 'text', x: p.xTitle, y: 553, silent: true,
        style: { text: axisTitleText, rich: axisTitleRich, align: 'center', verticalAlign: 'middle' }
    });
    graphic.push({
        type: 'text', x: p.yTitle, y: 277, rotation: Math.PI / 2, silent: true,
        style: { text: axisTitleText, rich: axisTitleRich, align: 'center', verticalAlign: 'middle' }
    });
});

chart.setOption({
    animation: false,
    backgroundColor: '#FFFFFF',
    title: title,
    legend: legend,
    grid: grid,
    xAxis: xAxis,
    yAxis: yAxis,
    series: series,
    graphic: graphic
});

window.addEventListener('resize', function () {
    chart.resize();
});
</script>
</body>
</html>
